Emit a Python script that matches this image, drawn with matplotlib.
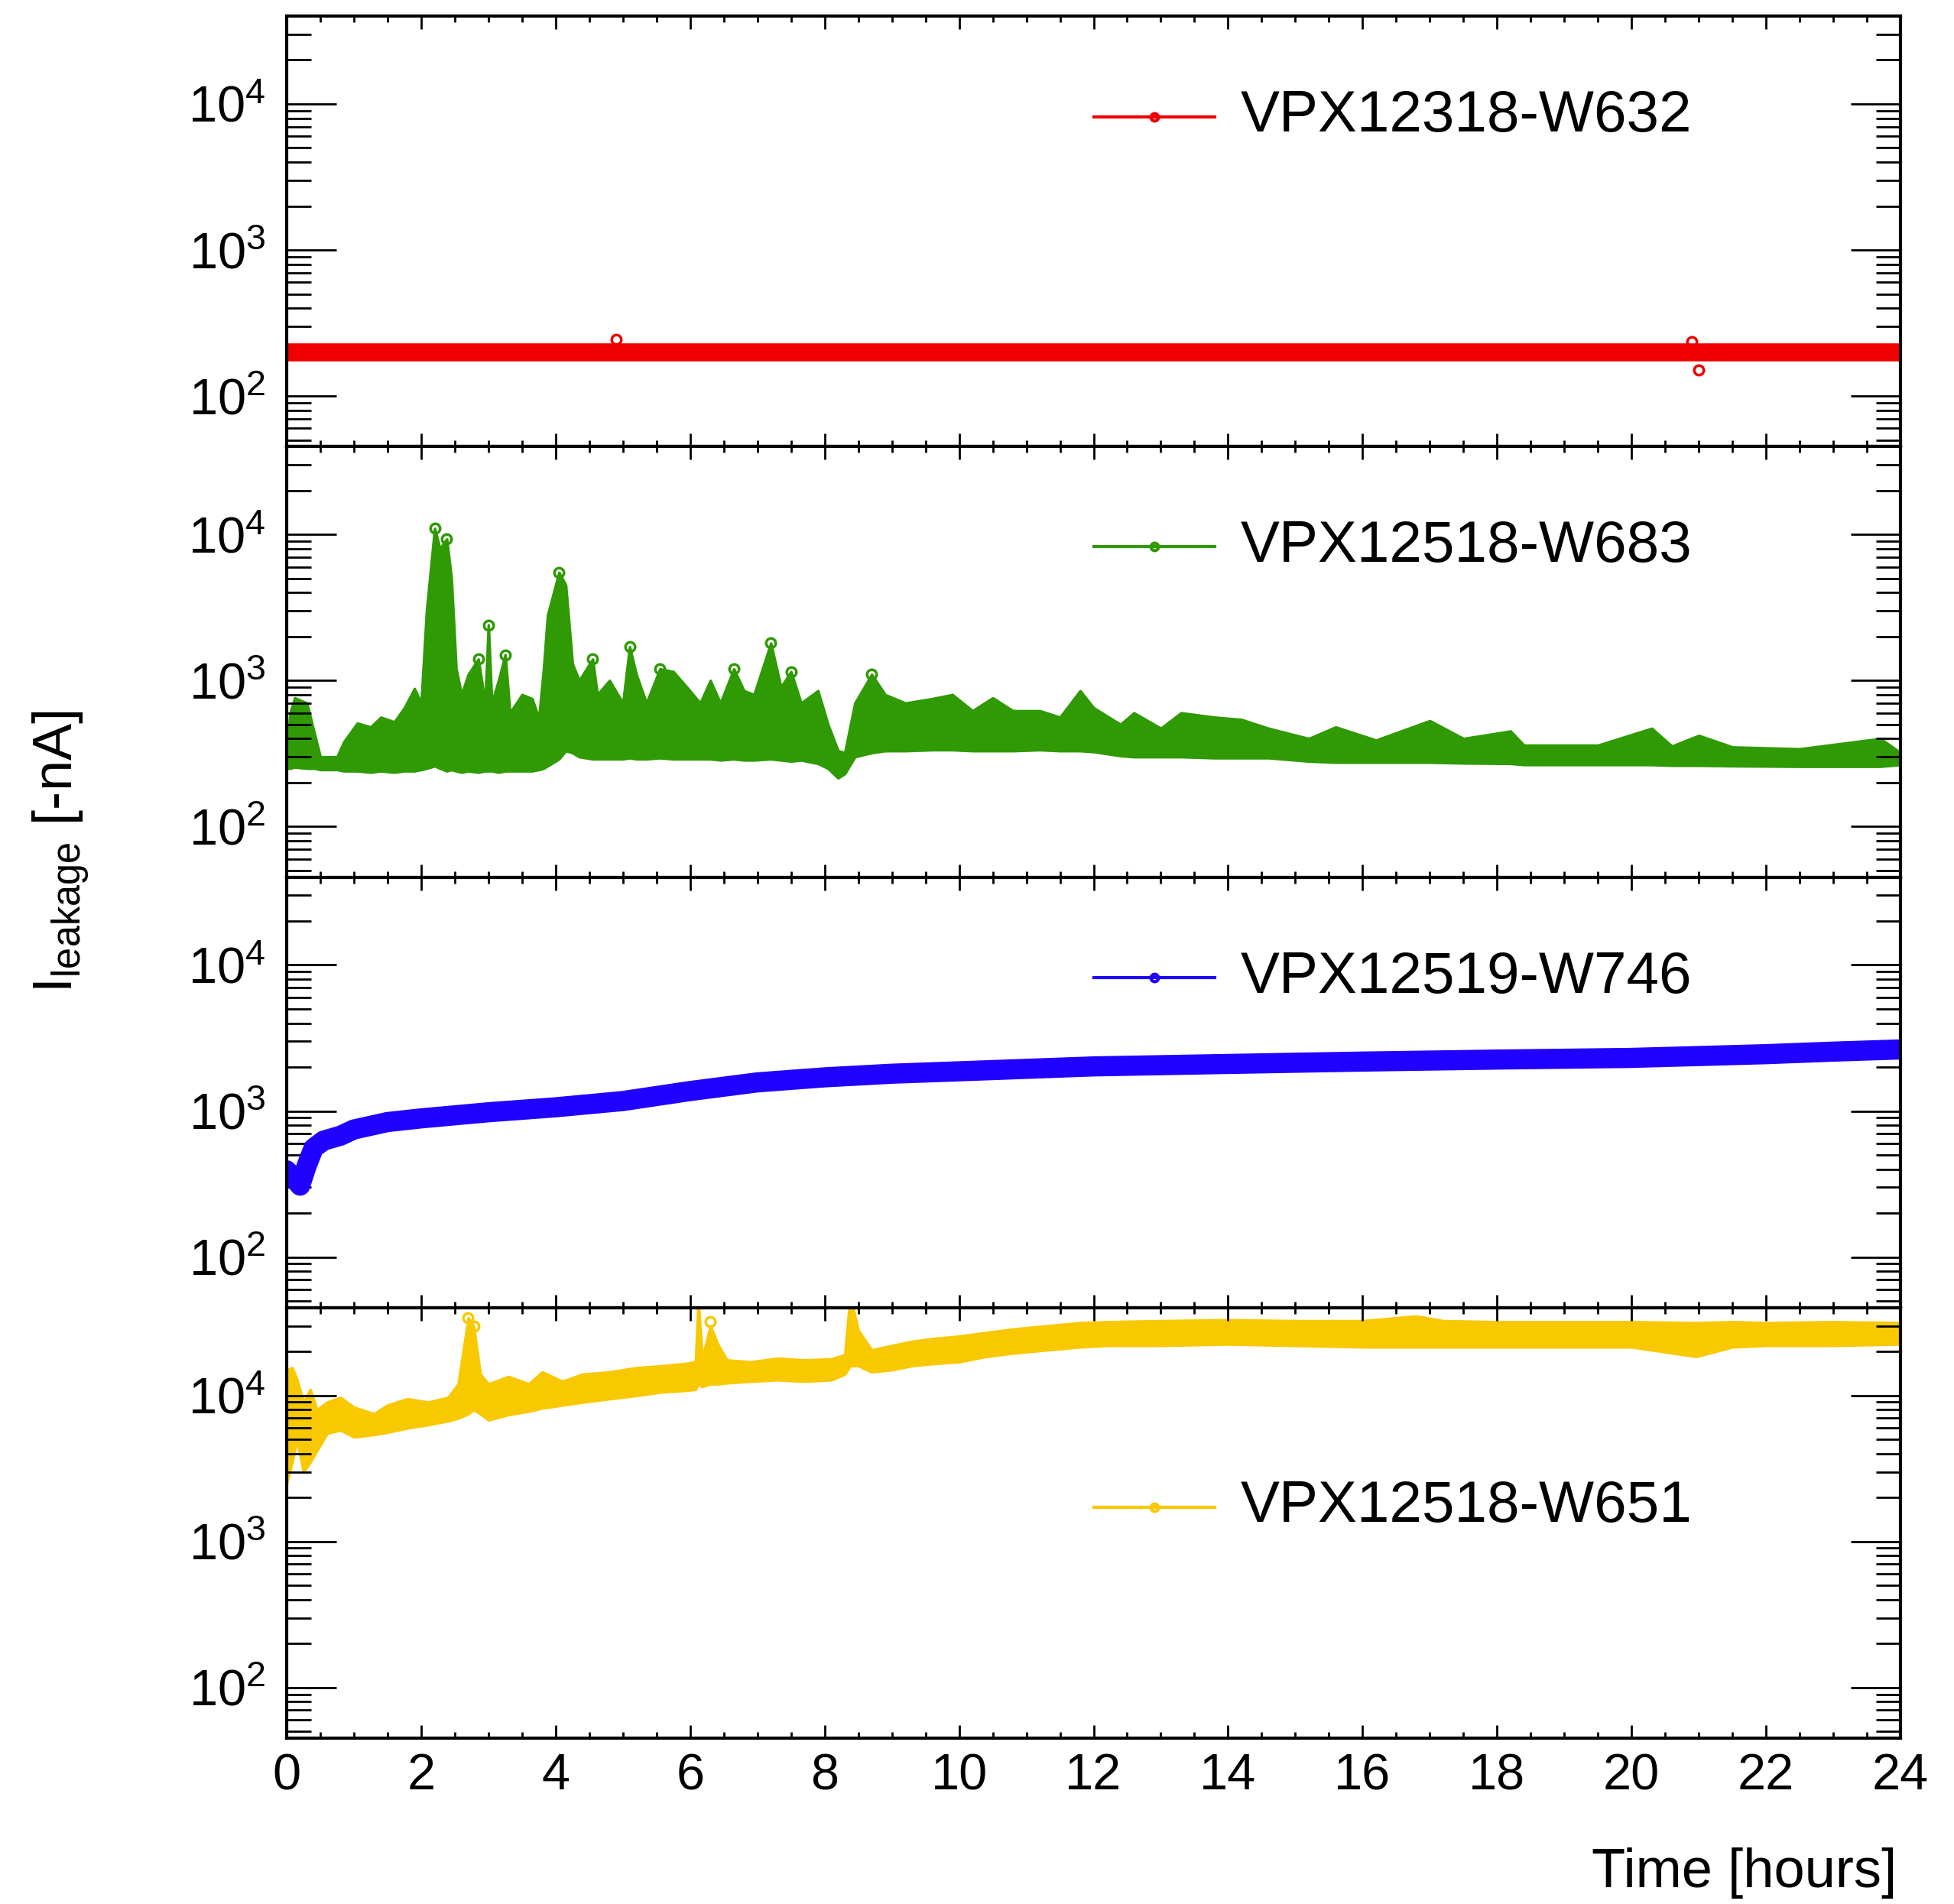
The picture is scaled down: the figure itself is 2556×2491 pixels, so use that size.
import numpy as np
import matplotlib
matplotlib.use('Agg')
import matplotlib.pyplot as plt
from matplotlib.ticker import LogLocator, MultipleLocator, NullFormatter, LogFormatterMathtext

plt.rcParams['font.family'] = ['Liberation Sans', 'DejaVu Sans']
plt.rcParams['mathtext.fontset'] = 'custom'
plt.rcParams['mathtext.rm'] = 'Liberation Sans'
plt.rcParams['mathtext.it'] = 'Liberation Sans:italic'
plt.rcParams['mathtext.bf'] = 'Liberation Sans:bold'

# sensor names (one per panel)
names = ['VPX12318-W632', 'VPX12518-W683', 'VPX12519-W746', 'VPX12518-W651']
colors = ['#f00000', '#2f9a04', '#2000ff', '#f8c800']

# red: steady ~200 nA
red_t = [0, 4.8, 24]
red_i = [198, 198, 198]
red_spike_t = [4.9, 20.9, 21.0]
red_spike_i = [245, 235, 150]

# green: noisy band (lower / upper envelope) with spikes
green_t = [0.00, 0.05, 0.12, 0.30, 0.42, 0.50, 0.75, 0.85, 1.05, 1.25, 1.40, 1.60, 1.75, 1.90,
           2.00, 2.08, 2.20, 2.28, 2.38, 2.45, 2.52, 2.60, 2.70, 2.85, 2.95, 3.00, 3.05, 3.15,
           3.25, 3.32, 3.50, 3.65, 3.75, 3.82, 3.88, 4.05, 4.15, 4.25, 4.35, 4.55, 4.62, 4.80,
           5.00, 5.10, 5.20, 5.35, 5.55, 5.75, 5.95, 6.15, 6.30, 6.45, 6.65, 6.80, 6.95, 7.20,
           7.35, 7.50, 7.65, 7.90, 8.05, 8.20, 8.30, 8.45, 8.70, 8.90, 9.20, 9.60, 9.90, 10.20,
           10.50, 10.80, 11.20, 11.50, 11.80, 12.00, 12.40, 12.60, 13.00, 13.30, 13.80, 14.20,
           14.60, 15.20, 15.60, 16.20, 17.00, 17.50, 18.20, 18.40, 19.50, 20.30, 20.60, 21.00,
           21.50, 22.50, 23.70, 24.00]
green_lo = [250, 250, 255, 250, 250, 245, 245, 240, 240, 235, 240, 235, 240, 240,
            245, 250, 260, 250, 240, 245, 240, 235, 240, 235, 240, 240, 240, 235,
            240, 240, 240, 240, 245, 250, 260, 290, 330, 320, 300, 290, 290, 290,
            290, 295, 290, 290, 295, 290, 290, 290, 290, 285, 290, 285, 285, 290,
            285, 280, 285, 270, 250, 215, 230, 300, 320, 330, 330, 335, 335, 330,
            330, 330, 335, 330, 330, 325, 305, 300, 300, 300, 295, 295,
            295, 280, 275, 275, 275, 272, 270, 265, 265, 265, 262, 262,
            260, 258, 258, 265]
green_hi = [290, 600, 760, 700, 420, 300, 300, 380, 510, 480, 560, 520, 650, 880,
            700, 3000, 11000, 8000, 9300, 5000, 1200, 800, 1100, 1400, 700, 2400, 700, 1000,
            1500, 600, 800, 750, 550, 1200, 2800, 5500, 4500, 1300, 1000, 1400, 800, 1000,
            700, 1700, 1100, 700, 1200, 1150, 900, 700, 1000, 700, 1200, 850, 800, 1800,
            900, 1150, 700, 850, 500, 330, 320, 700, 1100, 800, 700, 750, 800, 620,
            760, 620, 620, 560, 850, 650, 500, 600, 470, 600, 560, 540,
            470, 400, 480, 390, 530, 400, 450, 360, 360, 470, 355, 420,
            350, 340, 400, 320]
green_peak_t = [2.20, 2.38, 2.85, 3.00, 3.25, 4.05, 4.55, 5.10, 5.55, 6.65, 7.20, 7.50, 8.70]
green_peak_i = [11000, 9300, 1400, 2400, 1500, 5500, 1400, 1700, 1200, 1200, 1800, 1150, 1100]

# blue: slowly rising
blue_t = [0, 0.1, 0.2, 0.3, 0.4, 0.55, 0.8, 1.0, 1.5, 2.0, 3.0, 4.0, 5.0, 6.0, 7.0, 8.0,
          9.0, 10, 12, 14, 16, 18, 20, 22, 23, 24]
blue_i = [392, 350, 308, 424, 557, 627, 677, 747, 840, 890, 980, 1060, 1170, 1370, 1570, 1700,
          1800, 1870, 2020, 2100, 2180, 2250, 2310, 2450, 2550, 2640]

# yellow: high current band with spikes
yellow_t = [0.00, 0.08, 0.15, 0.25, 0.35, 0.45, 0.60, 0.80, 1.00, 1.30, 1.50, 1.80, 2.10, 2.40,
            2.55, 2.70, 2.78, 2.88, 3.00, 3.30, 3.60, 3.80, 4.10, 4.40, 4.80, 5.20, 5.60, 5.90,
            6.08, 6.12, 6.18, 6.30, 6.42, 6.55, 6.90, 7.30, 7.70, 8.10, 8.30, 8.38, 8.50, 8.70,
            9.00, 9.30, 9.60, 10.0, 10.4, 10.8, 11.3, 11.8, 12.2, 13.0, 14.0, 15.0, 16.0, 16.8,
            17.2, 18.0, 19.0, 20.0, 20.96, 21.5, 22.0, 23.0, 24.0]
yellow_lo = [2500, 3500, 5000, 3000, 3500, 4200, 5500, 5800, 5200, 5400, 5600, 6000, 6300, 6700,
             7000, 7500, 8000, 7500, 6800, 7400, 7800, 8200, 8600, 9000, 9500, 10000, 10600, 10800,
             11000, 12000, 11500, 12000, 12000, 12200, 12500, 12800, 12500, 12800, 14000, 16000, 16000, 14500,
             15000, 16000, 16500, 17000, 18500, 19500, 20500, 21500, 22000, 22000, 22500, 22000, 21500, 21500,
             21500, 21500, 21500, 21500, 18500, 21500, 22000, 22000, 22500]
yellow_hi = [15000, 15500, 13000, 9000, 11000, 8000, 9000, 9700, 8300, 7500, 8600, 9500, 9000, 9700,
             12000, 34000, 30000, 14000, 12000, 13500, 12000, 14500, 12500, 14000, 14500, 15500, 16000, 16500,
             17000, 45000, 18000, 30000, 22000, 17500, 17000, 18000, 17500, 17800, 19000, 48000, 28000, 20500,
             22000, 23500, 24500, 25500, 27000, 28500, 30000, 31500, 32000, 32500, 33000, 32500, 32500, 35000,
             32500, 32000, 32000, 32000, 31500, 32000, 31500, 32000, 31500]
yellow_peak_t = [2.70, 2.78, 6.30]
yellow_peak_i = [34000, 30000, 32000]

fig, axes = plt.subplots(4, 1, figsize=(25.56, 24.91), dpi=100, sharex=True)
fig.subplots_adjust(left=375/2556, right=2486/2556, top=1-21/2491, bottom=1-2274/2491, hspace=0)

ax = axes[0]
ax.plot(red_t, red_i, color=colors[0], lw=17, solid_capstyle='round')
ax.plot(red_spike_t, red_spike_i, 'o', mfc='none', mec=colors[0], ms=9, mew=2.5)

ax = axes[1]
ax.fill_between(green_t, green_lo, green_hi, color=colors[1], lw=2.5, edgecolor=colors[1])
ax.plot(green_peak_t, green_peak_i, 'o', mfc='none', mec=colors[1], ms=9, mew=2.5)

ax = axes[2]
ax.plot(blue_t, blue_i, color=colors[2], lw=19, solid_capstyle='round', solid_joinstyle='round')

ax = axes[3]
ax.fill_between(yellow_t, yellow_lo, yellow_hi, color=colors[3], lw=2.5, edgecolor=colors[3])
ax.plot(yellow_peak_t, yellow_peak_i, 'o', mfc='none', mec=colors[3], ms=9, mew=2.5)

leg_y = [0.766, 0.767, 0.766, 0.537]
for i, ax in enumerate(axes):
    ax.set_yscale('log')
    ax.set_ylim(45, 40000)
    ax.set_xlim(0, 24)
    ax.yaxis.set_major_locator(LogLocator(base=10, numticks=10))
    ax.yaxis.set_minor_locator(LogLocator(base=10, subs=np.arange(2, 10), numticks=20))
    ax.yaxis.set_major_formatter(LogFormatterMathtext())
    ax.yaxis.set_minor_formatter(NullFormatter())
    ax.xaxis.set_major_locator(MultipleLocator(2))
    ax.xaxis.set_minor_locator(MultipleLocator(0.5))
    for s in ax.spines.values():
        s.set_linewidth(3)
    ax.tick_params(which='both', direction='in', top=True, bottom=True, left=True, right=True,
                   width=2, labelsize=48)
    ax.tick_params(axis='y', which='major', length=47, pad=20)
    ax.tick_params(axis='y', which='minor', length=23)
    ax.tick_params(axis='x', which='major', length=12, pad=14)
    ax.tick_params(axis='x', which='minor', length=6)
    if i < 3:
        ax.tick_params(axis='x', labelbottom=False)
    # legend entry
    ax.plot([0.500, 0.575], [leg_y[i], leg_y[i]], color=colors[i], lw=3, transform=ax.transAxes,
            clip_on=False)
    ax.plot([0.5375], [leg_y[i]], 'o', mfc='none', mec=colors[i], ms=7, mew=3,
            transform=ax.transAxes, clip_on=False)
    ax.text(0.591, leg_y[i], names[i], transform=ax.transAxes, fontsize=55, va='center', ha='left')

fig.text(2481/2556, 1-2450/2491, 'Time [hours]', fontsize=52, ha='right', va='center')
fig.text(80/2556, 1-1114/2491, r'I$_{\mathrm{leakage}}$ [-nA]', fontsize=52, rotation=90,
         ha='center', va='center')

fig.savefig('out.png', dpi=100)
